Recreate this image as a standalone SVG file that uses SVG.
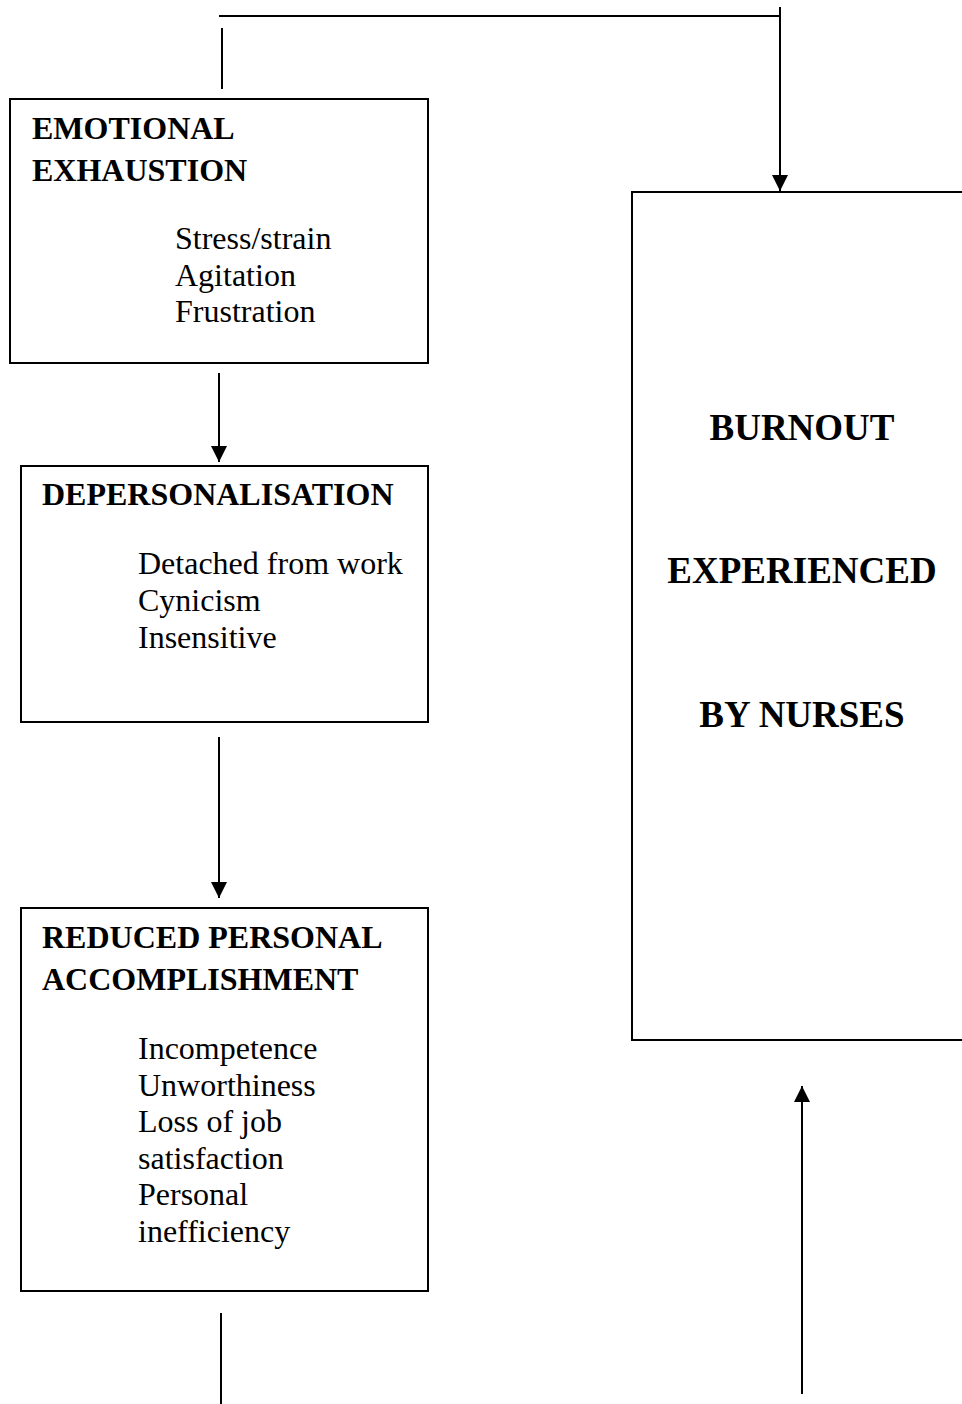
<svg xmlns="http://www.w3.org/2000/svg" width="962" height="1404" viewBox="0 0 962 1404">
<style>
.box{fill:#fff;stroke:#000;stroke-width:2}
.ln{stroke:#000;stroke-width:2;fill:none}
.h{font-family:"Liberation Serif","Times New Roman",serif;font-weight:bold;font-size:32px;fill:#000}
.b{font-family:"Liberation Serif","Times New Roman",serif;font-weight:bold;font-size:37px;fill:#000}
.t{font-family:"Liberation Serif","Times New Roman",serif;font-size:32px;fill:#000}
</style>
<defs>
<marker id="ah" viewBox="0 0 16 16" refX="16" refY="8" markerWidth="16" markerHeight="16" markerUnits="userSpaceOnUse" orient="auto">
<path d="M0,0 L16,8 L0,16 z" fill="#000"/>
</marker>
</defs>
<g id="connectors">
<path class="ln" d="M219,16 H781"/>
<path class="ln" d="M780,7 V191" marker-end="url(#ah)"/>
<path class="ln" d="M222,28 V89"/>
<path class="ln" d="M219,373 V462" marker-end="url(#ah)"/>
<path class="ln" d="M219,737 V898" marker-end="url(#ah)"/>
<path class="ln" d="M802,1394 V1086" marker-end="url(#ah)"/>
<path class="ln" d="M221,1313 V1404"/>
</g>
<g id="emotional">
<rect class="box" x="10" y="99" width="418" height="264"/>
<text class="h" x="32" y="139">EMOTIONAL</text>
<text class="h" x="32" y="181">EXHAUSTION</text>
<text class="t" x="175" y="249">Stress/strain</text>
<text class="t" x="175" y="286">Agitation</text>
<text class="t" x="175" y="322">Frustration</text>
</g>
<g id="depersonalisation">
<rect class="box" x="21" y="466" width="407" height="256"/>
<text class="h" x="42" y="505">DEPERSONALISATION</text>
<text class="t" x="138" y="574">Detached from work</text>
<text class="t" x="138" y="611">Cynicism</text>
<text class="t" x="138" y="648">Insensitive</text>
</g>
<g id="reduced">
<rect class="box" x="21" y="908" width="407" height="383"/>
<text class="h" x="42" y="948">REDUCED PERSONAL</text>
<text class="h" x="42" y="990">ACCOMPLISHMENT</text>
<text class="t" x="138" y="1059">Incompetence</text>
<text class="t" x="138" y="1096">Unworthiness</text>
<text class="t" x="138" y="1132">Loss of job</text>
<text class="t" x="138" y="1169">satisfaction</text>
<text class="t" x="138" y="1205">Personal</text>
<text class="t" x="138" y="1242">inefficiency</text>
</g>
<g id="burnout">
<rect class="box" x="632" y="192" width="340" height="848"/>
<text class="b" x="802" y="440" text-anchor="middle">BURNOUT</text>
<text class="b" x="802" y="583" text-anchor="middle">EXPERIENCED</text>
<text class="b" x="802" y="727" text-anchor="middle">BY NURSES</text>
</g>
</svg>
